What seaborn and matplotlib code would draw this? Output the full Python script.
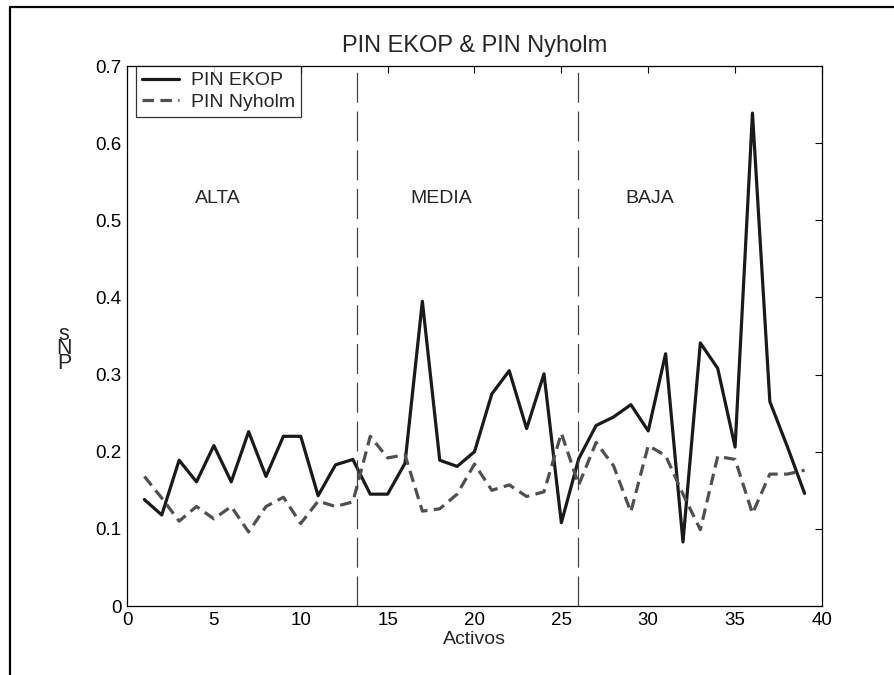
import numpy as np
import pandas as pd
import matplotlib
matplotlib.use("Agg")
import matplotlib.pyplot as plt
import seaborn as sns
from matplotlib.lines import Line2D

# Values
activos = list(range(1, 40))
pin_ekop = [0.138, 0.118, 0.189, 0.161, 0.208, 0.161, 0.226, 0.168, 0.220, 0.220,
            0.143, 0.183, 0.190, 0.145, 0.145, 0.185, 0.395, 0.189, 0.181, 0.200,
            0.275, 0.305, 0.230, 0.301, 0.108, 0.191, 0.234, 0.245, 0.261, 0.227,
            0.327, 0.083, 0.341, 0.308, 0.206, 0.639, 0.265, 0.207, 0.146]
pin_nyholm = [0.168, 0.140, 0.110, 0.129, 0.113, 0.129, 0.096, 0.129, 0.141, 0.107,
              0.136, 0.129, 0.135, 0.220, 0.192, 0.196, 0.123, 0.126, 0.145, 0.184,
              0.150, 0.157, 0.142, 0.148, 0.224, 0.157, 0.212, 0.182, 0.122, 0.208,
              0.195, 0.145, 0.099, 0.194, 0.190, 0.120, 0.171, 0.171, 0.176]
group_names = ["ALTA", "MEDIA", "BAJA"]
group_pos = [5.2, 18.1, 30.1]
group_breaks = [13.25, 25.95]

df = pd.DataFrame({"Activos": activos, "PIN EKOP": pin_ekop, "PIN Nyholm": pin_nyholm})

sns.set_style("white")
plt.rcParams["font.family"] = ["Liberation Sans", "DejaVu Sans"]

fig = plt.figure(figsize=(8.95, 6.75), dpi=100)
ax = fig.add_axes([0.1419, 0.1022, 0.7765, 0.8000])

sns.lineplot(data=df, x="Activos", y="PIN EKOP", ax=ax, color="#1a1a1a",
             linewidth=2.3, label="PIN EKOP")
sns.lineplot(data=df, x="Activos", y="PIN Nyholm", ax=ax, color="#505050",
             linewidth=2.3, label="PIN Nyholm")
ax.lines[1].set_dashes((3.6, 2.0))

for b in group_breaks:
    ax.axvline(b, color="#444444", linewidth=0.9, dashes=(24, 7))

for name, xp in zip(group_names, group_pos):
    ax.text(xp, 0.528, name, ha="center", va="center", fontsize=14)

ax.set_xlim(0, 40)
ax.set_ylim(0, 0.7)
ax.set_xticks(range(0, 41, 5))
ax.set_yticks(np.arange(0, 0.71, 0.1))
ax.set_yticklabels(["0", "0.1", "0.2", "0.3", "0.4", "0.5", "0.6", "0.7"])
ax.tick_params(direction="in", length=5, width=0.8, top=True, right=True,
               labelsize=13.5, colors="black", pad=4)
for s in ax.spines.values():
    s.set_visible(True)
    s.set_color("black")
    s.set_linewidth(0.9)

ax.set_title("PIN EKOP & PIN Nyholm", fontsize=17, pad=10)
ax.set_xlabel("Activos", fontsize=14, labelpad=2)
ax.set_ylabel("")
fig.text(0.0715, 0.483, "s\nN\nP", ha="center", va="center", fontsize=15.5,
         linespacing=0.62)

leg = ax.legend(loc="upper left", bbox_to_anchor=(0.013, 1.0), fontsize=14,
                frameon=True, fancybox=False, handlelength=1.9,
                handletextpad=0.65, borderaxespad=0.0, borderpad=0.3,
                labelspacing=0.2)
leg.get_frame().set_edgecolor("black")
leg.get_frame().set_linewidth(0.9)

# figure border fragments (top and left)
fig.add_artist(Line2D([10 / 895, 1.0], [1 - 7 / 675, 1 - 7 / 675],
                      transform=fig.transFigure, color="black", linewidth=1.6))
fig.add_artist(Line2D([10 / 895, 10 / 895], [0.0, 1 - 7 / 675],
                      transform=fig.transFigure, color="black", linewidth=1.6))

fig.savefig("out.png", dpi=100)
